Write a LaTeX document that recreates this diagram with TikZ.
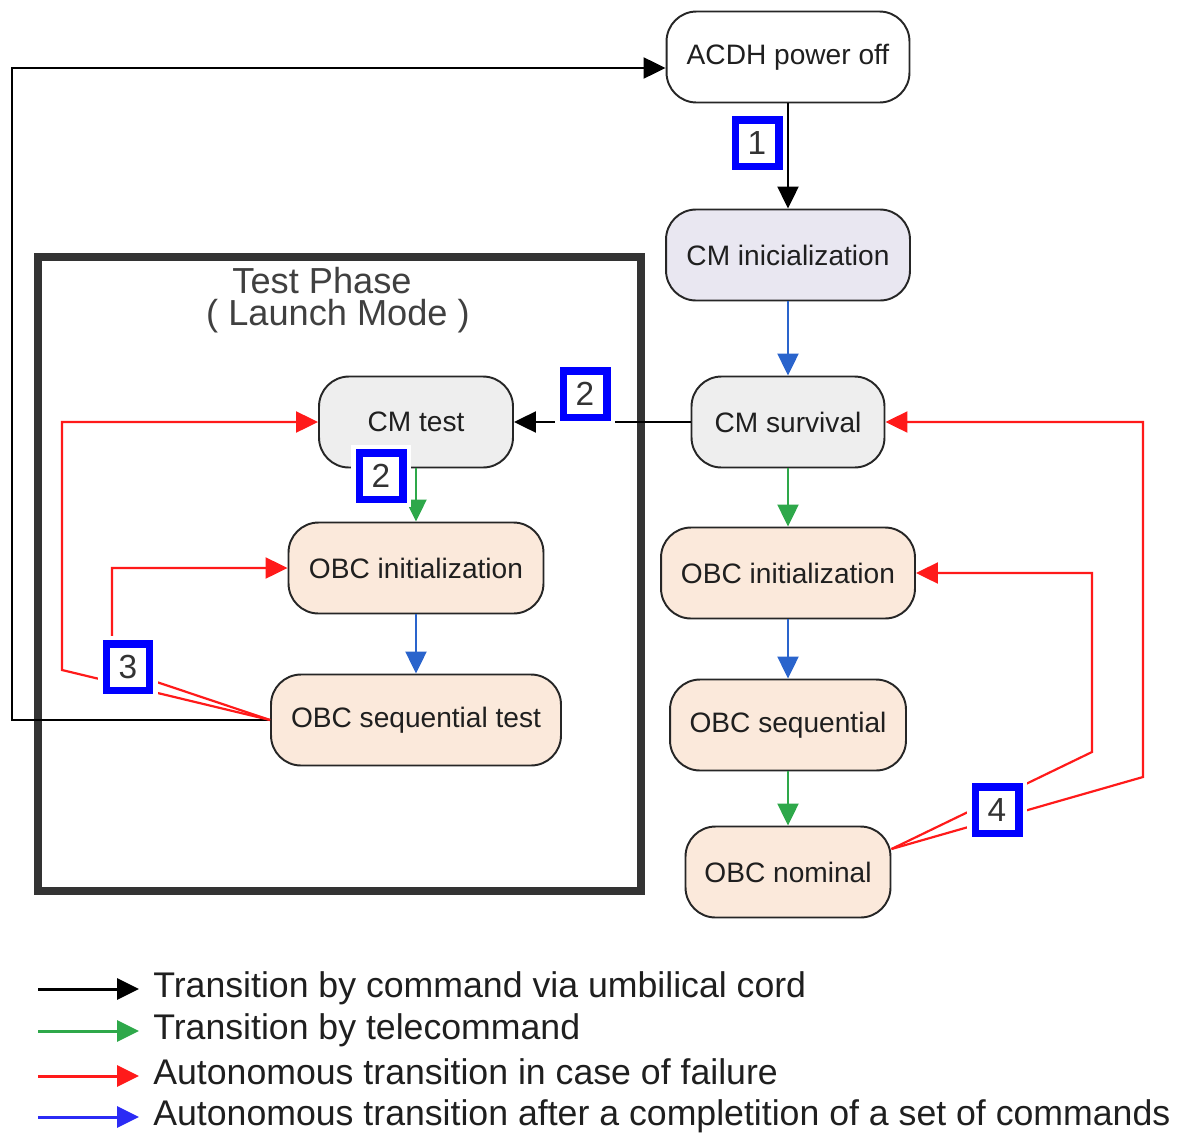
\documentclass[tikz,border=0pt]{standalone}
\usepackage{fontspec}
\setmainfont{Liberation Sans}
\usepackage{xcolor}
\usetikzlibrary{positioning,arrows.meta}
\definecolor{stategrey}{HTML}{EEEEEE}
\definecolor{statelav}{HTML}{E9E7F1}
\definecolor{statepeach}{HTML}{FBE9DB}
\definecolor{failred}{HTML}{FF1A1A}
\definecolor{tcgreen}{HTML}{2EA84A}
\definecolor{autoblue}{HTML}{2A64CC}
\definecolor{legblue}{HTML}{2B2BF5}
\definecolor{framegrey}{HTML}{333333}
\tikzset{
    state/.style={rectangle, rounded corners=0.6cm, draw=black!85, line width=1.1pt, minimum height=1.82cm, inner sep=2pt, font=\fontsize{16}{19}\selectfont, text=black!88},
    numbox/.style={rectangle, draw=blue, line width=0.15cm, fill=white, minimum width=0.87cm, minimum height=0.93cm, inner sep=0pt, font=\fontsize{19}{22}\selectfont, text=black!80, preaction={draw=white, line width=0.32cm}},
    cmdline/.style={draw=black, line width=1.25pt, -{Triangle[length=0.44cm,width=0.42cm]}},
    tcline/.style={draw=tcgreen, line width=1.25pt, -{Triangle[length=0.44cm,width=0.42cm]}},
    failline/.style={draw=failred, line width=1.25pt, -{Triangle[length=0.44cm,width=0.42cm]}},
    seqline/.style={draw=autoblue, line width=1.25pt, -{Triangle[length=0.44cm,width=0.42cm]}},
    phasetext/.style={anchor=base, inner sep=0pt, align=center, font=\fontsize{20.6}{18.1}\selectfont, text=black!75},
    legtext/.style={anchor=west, inner xsep=0.28cm, inner ysep=0pt, text height=0.5cm, text depth=0.15cm, font=\fontsize{20.3}{24}\selectfont, text=black!88}
}

\begin{document}
\begin{tikzpicture}[x=0.02cm, y=-0.02cm]
    \useasboundingbox (0,0) rectangle (1179,1136);

    % Test phase frame
    \node[draw=framegrey, line width=0.16cm, minimum width=12.06cm, minimum height=12.68cm, inner sep=0pt] (testphase) at (339.5,574) {};
    \node[phasetext] (phasetitle) at (338,325) {Test Phase\hspace*{0.64cm}\\( Launch Mode )};

    % States
    \node[state, fill=white, minimum width=4.86cm] (acdh) at (788,57) {ACDH power off};
    \node[state, fill=statelav, minimum width=4.88cm] (cminit) at (788,255) {CM inicialization};
    \node[state, fill=stategrey, minimum width=3.86cm] (cmsurv) at (788,422) {CM survival};
    \node[state, fill=statepeach, minimum width=5.08cm] (obcinit) at (788,573) {OBC initialization};
    \node[state, fill=statepeach, minimum width=4.72cm] (obcseq) at (788,725) {OBC sequential};
    \node[state, fill=statepeach, minimum width=4.1cm] (obcnom) at (788,872) {OBC nominal};

    \node[state, fill=stategrey, minimum width=3.88cm] (cmtest) at (416,422) {CM test};
    \node[state, fill=statepeach, minimum width=5.1cm] (tobcinit) at (416,568) {OBC initialization};
    \node[state, fill=statepeach, minimum width=5.8cm] (tobcseq) at (416,720) {OBC sequential test};

    % Transitions
    \draw[cmdline] (acdh) -- (cminit);
    \draw[seqline] (cminit) -- (cmsurv);
    \draw[tcline] (cmsurv) -- (obcinit);
    \draw[seqline] (obcinit) -- (obcseq);
    \draw[tcline] (obcseq) -- (obcnom);
    \draw[cmdline] (cmsurv) -- (cmtest);
    \draw[tcline] (cmtest) -- (tobcinit);
    \draw[seqline] (tobcinit) -- (tobcseq);
    \draw[cmdline] (tobcseq.west) -- (12,720) |- ([yshift=-0.22cm]acdh.west);

    % Failure transitions
    \draw[failline] (tobcseq.west) -- (62,670) |- (cmtest.west);
    \draw[failline] (tobcseq.west) -- (112,667) |- (tobcinit.west);
    \coordinate (nomout) at ([yshift=0.46cm]obcnom.east);
    \draw[failline] (nomout) -- (1092,752) |- (obcinit.east);
    \draw[failline] (nomout) -- (1143,777) |- (cmsurv.east);

    % Numbered steps
    \node[numbox] (stepa) at (757,143) {1};
    \node[numbox] (stepb) at (585,394) {2};
    \node[numbox] (stepc) at (381,476) {2};
    \node[numbox] (stepd) at (128,667) {3};
    \node[numbox] (stepe) at (997,810) {4};

    % Legend
    \coordinate (lega) at (38,989);
    \coordinate (legb) at (38,1031);
    \coordinate (legc) at (38,1076);
    \coordinate (legd) at (38,1117);
    \node[legtext] (lega txt) at (139,989) {Transition by command via umbilical cord};
    \node[legtext] (legb txt) at (139,1031) {Transition by telecommand};
    \node[legtext] (legc txt) at (139,1076) {Autonomous transition in case of failure};
    \node[legtext] (legd txt) at (139,1117) {Autonomous transition after a completition of a set of commands};
    \draw[cmdline, line width=1.7pt] (lega) -- (lega txt);
    \draw[tcline, line width=1.7pt] (legb) -- (legb txt);
    \draw[failline, line width=1.7pt] (legc) -- (legc txt);
    \draw[draw=legblue, line width=1.7pt, -{Triangle[length=0.44cm,width=0.42cm]}] (legd) -- (legd txt);

\end{tikzpicture}
\end{document}
